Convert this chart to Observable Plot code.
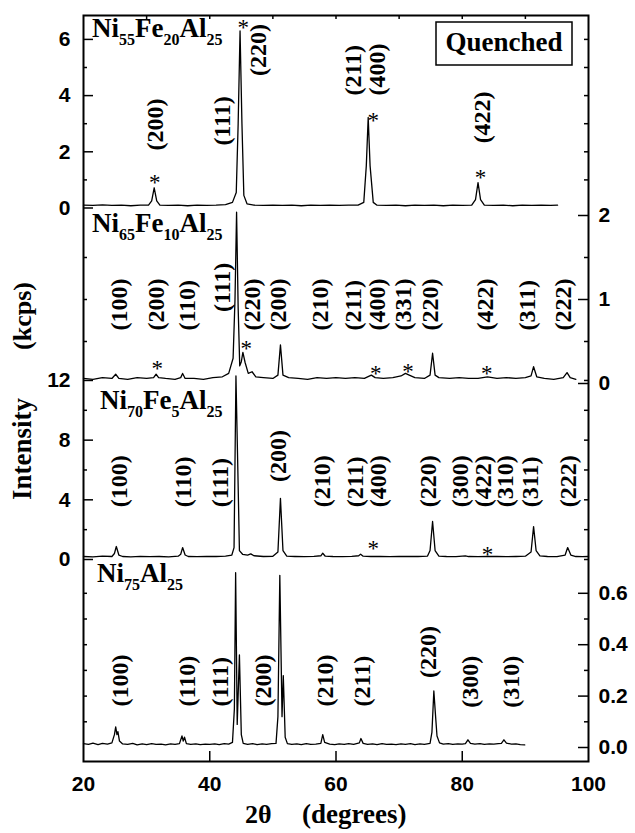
<!DOCTYPE html>
<html><head><meta charset="utf-8">
<script src="https://cdn.jsdelivr.net/npm/d3@7"></script>
<script src="https://cdn.jsdelivr.net/npm/@observablehq/plot@0.6"></script>
<style>
body{margin:0;background:#fff;}
#chart{position:relative;width:635px;height:833px;background:#fff;}
#chart svg{position:absolute;left:0;top:0;}
</style></head><body><div id="chart"></div>
<script>
// ---------------- DATA ----------------
const compositions = ["Ni55Fe20Al25", "Ni65Fe10Al25", "Ni70Fe5Al25", "Ni75Al25"];
const xTicks = [20, 40, 60, 80, 100];
const xAxisTitle = ["2θ", "(degrees)"];
const yAxisTitle = ["Intensity", "(kcps)"];
const stateLabel = "Quenched";

// [2θ, intensity (kcps)]
const ni55 = [[20,0.1],[21.5,0.09],[23,0.11],[24.5,0.09],[26,0.1],[27.5,0.08],[29,0.1],[30.3,0.1],[30.8,0.25],[31.2,0.72],[31.6,0.25],[32.1,0.1],[33.5,0.09],[35,0.1],[36.5,0.08],[38,0.1],[39.5,0.09],[41,0.1],[42.5,0.12],[43.6,0.2],[44.2,0.55],[44.5,3.0],[44.8,6.3],[45.1,3.0],[45.4,0.45],[45.9,0.15],[47,0.1],[48.5,0.09],[50,0.1],[51.5,0.09],[53,0.1],[54.5,0.08],[56,0.1],[57.5,0.09],[59,0.1],[60.5,0.09],[62,0.1],[63.5,0.1],[64.4,0.2],[64.8,1.5],[65.1,3.22],[65.4,1.5],[65.9,0.2],[66.5,0.1],[68,0.09],[69.5,0.1],[71,0.08],[72.5,0.1],[74,0.09],[75.5,0.1],[77,0.08],[78.5,0.1],[80,0.09],[81.5,0.1],[82.1,0.3],[82.5,0.9],[82.9,0.3],[83.5,0.1],[85,0.09],[86.5,0.1],[88,0.08],[89.5,0.1],[91,0.09],[92.5,0.1],[94,0.09],[95.1,0.1]];
const ni65 = [[20,0.06],[21.5,0.05],[23,0.07],[24.5,0.06],[25.1,0.11],[25.6,0.06],[27,0.05],[28.5,0.07],[30,0.06],[31.1,0.07],[31.5,0.11],[31.9,0.07],[33,0.06],[34.5,0.05],[35.4,0.07],[35.7,0.12],[36.1,0.06],[37.5,0.06],[39,0.05],[40.5,0.07],[42,0.08],[43,0.12],[43.7,0.3],[44.0,1.0],[44.25,2.04],[44.5,0.9],[44.75,0.21],[45.0,0.26],[45.25,0.37],[45.6,0.25],[46.1,0.12],[46.7,0.14],[47.3,0.08],[48.5,0.07],[50,0.06],[50.8,0.1],[51.2,0.46],[51.6,0.1],[52.5,0.07],[54,0.06],[55.5,0.05],[57,0.07],[58.5,0.06],[60,0.07],[61.5,0.06],[63,0.07],[64.5,0.06],[65.6,0.1],[66.2,0.07],[67.5,0.06],[69,0.07],[70.3,0.09],[71,0.12],[71.6,0.1],[72.5,0.07],[74,0.06],[74.9,0.1],[75.3,0.36],[75.7,0.1],[76.3,0.07],[78,0.06],[79.5,0.07],[81,0.06],[82.5,0.06],[84,0.08],[85.5,0.06],[87,0.07],[88.5,0.06],[90,0.07],[90.9,0.09],[91.3,0.2],[91.8,0.08],[93,0.06],[94.5,0.05],[96,0.07],[96.6,0.13],[97.1,0.07],[98,0.05]];
const ni70 = [[20,0.2],[21.5,0.18],[23,0.22],[24.5,0.2],[24.9,0.4],[25.2,0.87],[25.6,0.3],[26.2,0.2],[27.5,0.18],[29,0.21],[30.5,0.19],[32,0.2],[33.5,0.18],[35,0.22],[35.4,0.35],[35.7,0.8],[36.1,0.3],[36.6,0.2],[38,0.19],[39.5,0.21],[41,0.2],[42.5,0.22],[43.5,0.3],[43.85,0.8],[44.15,12.3],[44.45,6],[44.7,0.6],[45.2,0.35],[46,0.3],[46.5,0.38],[47,0.25],[48.5,0.2],[50,0.21],[50.8,0.5],[51.2,4.1],[51.6,0.6],[52.2,0.22],[53.5,0.2],[55,0.19],[56.5,0.21],[57.6,0.25],[57.9,0.42],[58.3,0.22],[59.5,0.2],[61,0.19],[62.5,0.21],[63.6,0.25],[63.9,0.36],[64.3,0.22],[65.5,0.2],[67,0.21],[68.5,0.19],[70,0.2],[71.5,0.21],[73,0.2],[74.5,0.23],[74.9,0.6],[75.3,2.55],[75.7,0.6],[76.3,0.22],[77.5,0.2],[79,0.19],[80.5,0.24],[81,0.2],[82.5,0.19],[84,0.2],[85.5,0.21],[87,0.19],[88.5,0.2],[90,0.22],[90.9,0.5],[91.3,2.2],[91.7,0.6],[92.3,0.24],[93.5,0.2],[95,0.19],[96.3,0.3],[96.7,0.8],[97.2,0.3],[98,0.2],[99,0.19],[100,0.2]];
const ni75 = [[20,0.015],[20.8,0.012],[21.5,0.017],[22.3,0.011],[23,0.016],[23.8,0.013],[24.5,0.018],[24.9,0.05],[25.1,0.08],[25.3,0.05],[25.45,0.062],[25.7,0.025],[26.2,0.014],[27,0.012],[27.8,0.016],[28.5,0.01],[29.3,0.014],[30,0.011],[30.8,0.015],[31.5,0.012],[32.3,0.013],[33,0.01],[33.8,0.014],[34.5,0.012],[35.2,0.015],[35.6,0.045],[35.8,0.025],[36.0,0.04],[36.3,0.015],[37,0.012],[37.8,0.014],[38.5,0.011],[39.3,0.013],[40,0.012],[40.8,0.014],[41.5,0.011],[42.3,0.015],[43,0.013],[43.6,0.02],[43.9,0.15],[44.1,0.68],[44.35,0.09],[44.7,0.36],[45.0,0.05],[45.3,0.016],[46,0.012],[46.8,0.015],[47.5,0.011],[48.3,0.014],[49,0.012],[49.8,0.015],[50.5,0.016],[50.8,0.12],[51.1,0.67],[51.45,0.12],[51.65,0.28],[51.95,0.04],[52.3,0.015],[53,0.012],[53.8,0.014],[54.5,0.011],[55.3,0.015],[56,0.012],[56.8,0.013],[57.6,0.016],[57.9,0.05],[58.2,0.02],[59,0.013],[59.8,0.011],[60.5,0.014],[61.3,0.012],[62,0.015],[62.8,0.012],[63.7,0.018],[63.95,0.035],[64.3,0.016],[65,0.012],[65.8,0.014],[66.5,0.011],[67.3,0.015],[68,0.012],[68.8,0.013],[69.5,0.011],[70.3,0.014],[71,0.012],[71.8,0.015],[72.5,0.011],[73.3,0.014],[74,0.012],[74.9,0.016],[75.2,0.06],[75.5,0.22],[75.75,0.13],[76.0,0.045],[76.4,0.018],[77,0.013],[77.8,0.015],[78.5,0.012],[79.3,0.014],[80,0.013],[80.5,0.015],[80.9,0.03],[81.3,0.016],[82,0.013],[82.8,0.015],[83.5,0.012],[84.3,0.014],[85,0.013],[85.7,0.015],[86.2,0.016],[86.6,0.03],[87,0.017],[87.8,0.013],[88.5,0.014],[89.2,0.011],[89.9,0.01]];

// peak labels: [hkl, 2θ, intensity at label foot]
const ni55Labels = [["(200)",31.4,2.05],["(111)",42.0,2.22],["(220)",47.7,4.7],["(211)",62.8,4.0],["(400)",66.6,4.0],["(422)",83.2,2.3]];
const ni65Labels = [["(100)",25.6,0.63],["(200)",31.6,0.63],["(110)",36.4,0.63],["(111)",42.0,0.85],["(220)",46.7,0.63],["(200)",50.9,0.63],["(210)",57.5,0.63],["(211)",62.8,0.63],["(400)",66.6,0.63],["(331)",70.7,0.63],["(220)",75.0,0.63],["(422)",83.7,0.63],["(311)",90.3,0.63],["(222)",96.0,0.63]];
const ni70Labels = [["(100)",25.6,3.5],["(110)",35.8,3.5],["(111)",41.7,3.5],["(200)",50.9,5.2],["(210)",57.8,3.5],["(211)",63.1,3.5],["(400)",66.7,3.5],["(220)",74.7,3.5],["(300)",79.7,3.5],["(422)",83.4,3.5],["(310)",86.9,3.5],["(311)",90.8,3.5],["(222)",96.8,3.5]];
const ni75Labels = [["(100)",25.9,0.16],["(110)",36.5,0.16],["(111)",41.7,0.16],["(200)",48.5,0.16],["(210)",58.3,0.16],["(211)",64.2,0.16],["(220)",74.7,0.27],["(300)",81.3,0.155],["(310)",87.8,0.155]];

// asterisks (second phase): [2θ, intensity]
const ni55Stars = [[31.3,1.05],[45.3,6.57],[65.9,3.25],[82.9,1.22]];
const ni65Stars = [[31.7,0.23],[45.8,0.46],[66.3,0.17],[71.4,0.19],[83.9,0.17]];
const ni70Stars = [[65.9,1.0],[84.0,0.6]];
const ni75Stars = [];

// y tick values per panel
const ni55Major = [0,2,4,6], ni55Minor = [1,3,5], ni55Other = [1,2,3,4,5,6];
const ni65Major = [0,1,2], ni65Minor = [0.5,1.5], ni65Other = [0.5,1,1.5];
const ni70Major = [0,4,8,12], ni70Minor = [2,6,10], ni70Other = [0,2,4,6,8,10,12];
const ni75Major = [0,0.2,0.4,0.6], ni75Minor = [0.1,0.3,0.5], ni75Other = [0.1,0.2,0.3,0.4,0.5,0.6];
const xMajorInner = [40,60,80], xTopTicks = [30,40,50,60,70,80,90];

// ---------------- LAYOUT ----------------
const W = 635, H = 833, ML = 83, MR = 47, MT = 15, MB = 72;
const FW = W - ML - MR, FH = H - MT - MB;
const SANS = "'Liberation Sans', Arial, Helvetica, sans-serif";
const SERIF = "'Liberation Serif', 'Times New Roman', Times, serif";
function yDomain(zeroPx, ppu) { return [-(H - MB - zeroPx) / ppu, (zeroPx - MT) / ppu]; }

function tickY(vals, s, len) {
  const o = {y: d => d, stroke: "black", strokeWidth: 1.5};
  if (s === "left") o.insetRight = FW - len; else o.insetLeft = FW - len;
  return Plot.tickY(vals, o);
}

function panel({series, domain, labels, stars, side, major, minor, other, fmt, extra = []}) {
  const otherSide = side === "left" ? "right" : "left";
  const svg = Plot.plot({
    width: W, height: H, marginLeft: ML, marginRight: MR, marginTop: MT, marginBottom: MB,
    x: {domain: [20, 100], axis: null},
    y: {domain},
    style: {background: "none", overflow: "visible"},
    marks: [
      tickY(major, side, 10),
      tickY(minor, side, 4),
      tickY(other, otherSide, 4),
      Plot.axisY({anchor: side, ticks: major, tickSize: 0, tickPadding: side === "left" ? 13 : 10,
        tickFormat: fmt, label: null, fontSize: 21, fontWeight: "bold", fontFamily: SANS}),
      Plot.line(series, {x: d => d[0], y: d => d[1], stroke: "black", strokeWidth: 1.3}),
      Plot.text(labels, {x: d => d[1], y: d => d[2], text: d => d[0], rotate: -90, textAnchor: "start",
        lineAnchor: "middle", fontSize: 24, fontWeight: "bold", fontFamily: SERIF, fill: "black"}),
      Plot.text(stars, {x: d => d[0], y: d => d[1], text: () => "*", fontSize: 23, fontFamily: SERIF,
        fill: "black", dy: 4}),
      ...extra
    ]
  });
  document.getElementById("chart").appendChild(svg);
}

panel({series: ni55, domain: yDomain(207.5, 28.1), labels: ni55Labels, stars: ni55Stars, side: "left",
  major: ni55Major, minor: ni55Minor, other: ni55Other, fmt: d3.format("d")});
panel({series: ni65, domain: yDomain(383, 84), labels: ni65Labels, stars: ni65Stars, side: "right",
  major: ni65Major, minor: ni65Minor, other: ni65Other, fmt: d3.format("d")});
panel({series: ni70, domain: yDomain(559, 14.92), labels: ni70Labels, stars: ni70Stars, side: "left",
  major: ni70Major, minor: ni70Minor, other: ni70Other, fmt: d3.format("d")});
panel({series: ni75, domain: yDomain(747, 257), labels: ni75Labels, stars: ni75Stars, side: "right",
  major: ni75Major, minor: ni75Minor, other: ni75Other, fmt: d3.format(".1f"),
  extra: [
    Plot.frame({stroke: "black", strokeWidth: 2}),
    Plot.tickX(xMajorInner, {x: d => d, insetTop: FH - 10, stroke: "black", strokeWidth: 1.5}),
    Plot.tickX(xTopTicks, {x: d => d, insetBottom: FH - 4, stroke: "black", strokeWidth: 1.5}),
    Plot.axisX({anchor: "bottom", ticks: xTicks, tickSize: 0, tickPadding: 15, label: null,
      fontSize: 21, fontWeight: "bold", fontFamily: SANS})
  ]});

// ---------------- TEXT OVERLAY ----------------
const ov = d3.select("#chart").append("svg").attr("width", W).attr("height", H)
  .style("font-family", SERIF).style("font-weight", "bold").attr("fill", "black");
const titlePos = [[92, 45], [92, 240], [100, 417], [97, 590]];
compositions.forEach((c, i) => {
  const t = ov.append("text").attr("x", titlePos[i][0]).attr("y", titlePos[i][1]).attr("font-size", 27);
  for (const m of c.matchAll(/([A-Za-z]+)(\d+)/g)) {
    t.append("tspan").text(m[1]).attr("dy", t.selectAll("tspan").size() ? -8 : 0);
    t.append("tspan").text(m[2]).attr("font-size", 16).attr("dy", 8);
  }
});
ov.append("rect").attr("x", 436).attr("y", 22).attr("width", 136).attr("height", 43)
  .attr("fill", "white").attr("stroke", "black").attr("stroke-width", 1.5);
ov.append("text").attr("x", 504).attr("y", 51).attr("text-anchor", "middle").attr("font-size", 27).text(stateLabel);
ov.append("text").attr("x", 245).attr("y", 823).attr("font-size", 26).text(xAxisTitle[0]);
ov.append("text").attr("x", 302).attr("y", 823).attr("font-size", 27).text(xAxisTitle[1]);
ov.append("text").attr("transform", "translate(31,449) rotate(-90)").attr("text-anchor", "middle")
  .attr("font-size", 27).text(yAxisTitle[0]);
ov.append("text").attr("transform", "translate(31,316) rotate(-90)").attr("text-anchor", "middle")
  .attr("font-size", 26).text(yAxisTitle[1]);
</script></body></html>
